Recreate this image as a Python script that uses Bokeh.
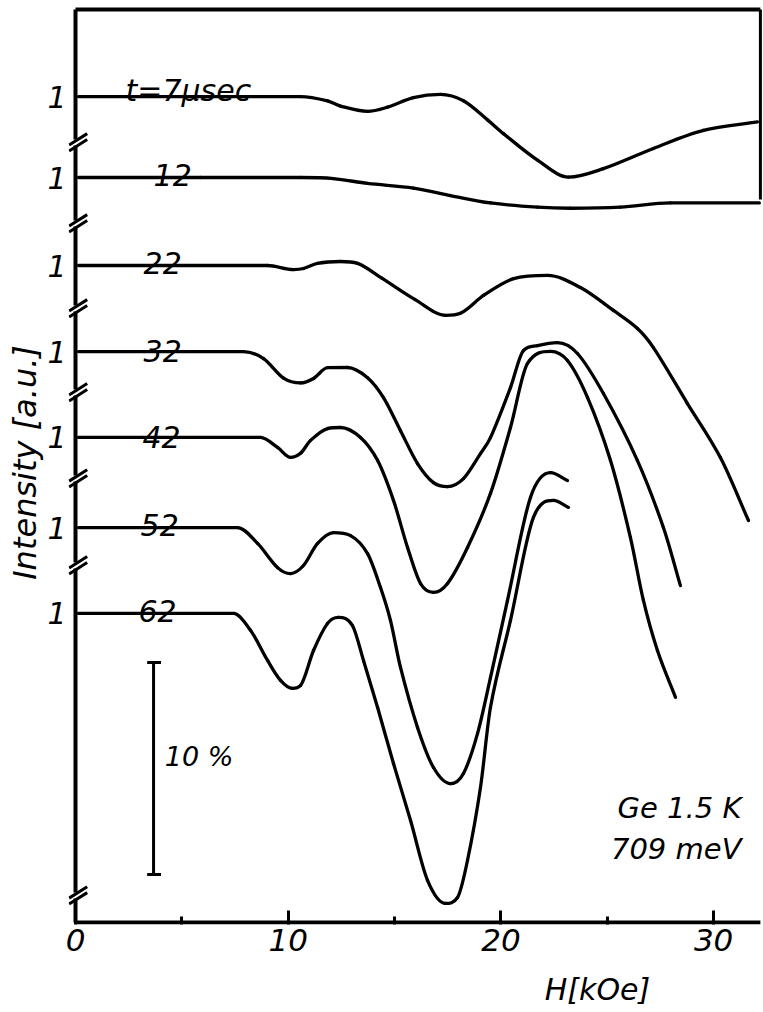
from bokeh.plotting import figure
from bokeh.models import FixedTicker, LinearAxis
from bokeh.embed import file_html
from bokeh.resources import INLINE
from bokeh.core.properties import value

# ---------------- data (H in kOe, relative intensity change in %) ----------------
curve_labels = ["t=7µsec", "12", "22", "32", "42", "52", "62"]
# vertical position (in % units above the H axis) of the "1" level of each trace
baselines = [38.96, 35.14, 30.99, 26.93, 22.88, 18.63, 14.58]

H_7 = [0.14, 5.88, 10.58, 11.85, 12.46, 13.73, 14.67, 15.89, 17.16, 18.24, 19.37, 20.12, 21.72, 23.18, 24.82, 27.17, 29.52, 32.06]
I_7 = [0, 0, 0, -0.2, -0.45, -0.7, -0.5, -0.05, 0.1, -0.2, -1.1, -1.75, -3.0, -3.8, -3.4, -2.45, -1.6, -1.2]

H_12 = [0.14, 5.88, 10.58, 12.13, 13.73, 15.89, 17.63, 19.51, 21.72, 23.27, 25.62, 27.97, 32.15]
I_12 = [0, 0, 0, -0.05, -0.28, -0.5, -0.85, -1.2, -1.4, -1.45, -1.4, -1.2, -1.2]

H_22 = [0.14, 9.03, 10.25, 10.72, 11.38, 12.46, 13.26, 14.40, 15.95, 17.40, 18.10, 19.20, 20.60, 22.19, 23.74, 25.29, 26.42, 27.17, 28.77, 30.32, 31.64]
I_22 = [0, 0, -0.19, -0.14, 0.1, 0.19, 0.1, -0.6, -1.6, -2.35, -2.25, -1.4, -0.62, -0.47, -1.04, -2.12, -2.97, -3.87, -6.51, -9.06, -12.03]

H_32 = [0.14, 7.9, 8.84, 9.78, 10.58, 11.19, 11.85, 12.79, 13.73, 14.48, 15.28, 16.08, 16.83, 17.49, 18.24, 19.04, 19.51, 20.45, 21.06, 21.72, 22.66, 23.60, 24.82, 26.42, 27.64, 28.44]
I_32 = [0, 0, -0.33, -1.25, -1.48, -1.27, -0.76, -0.75, -1.23, -2.17, -3.73, -5.28, -6.18, -6.37, -5.99, -4.81, -4.06, -1.70, 0.05, 0.28, 0.42, -0.09, -1.98, -5.14, -8.30, -11.04]

H_42 = [0.14, 8.70, 9.50, 10.11, 10.58, 11.05, 11.85, 12.46, 13.40, 14.20, 14.95, 15.61, 16.22, 16.83, 17.49, 18.43, 19.51, 20.45, 21.25, 22.33, 23.13, 24.07, 25.15, 26.09, 26.70, 27.36, 28.21]
I_42 = [0, 0, -0.47, -0.94, -0.75, -0.14, 0.42, 0.47, 0, -1.08, -2.97, -5.19, -6.89, -7.31, -6.89, -5.19, -2.64, 0.47, 3.49, 4.06, 3.63, 1.89, -1.08, -4.72, -7.69, -10.05, -12.26]

H_52 = [0.14, 7.62, 8.56, 9.50, 10.11, 10.72, 11.38, 12.13, 12.93, 13.73, 14.34, 14.81, 15.28, 16.08, 16.83, 17.63, 18.24, 18.90, 19.51, 20.31, 21.39, 22.33, 23.13]
I_52 = [0, 0, -0.75, -1.89, -2.17, -1.79, -0.75, -0.24, -0.38, -1.23, -2.83, -4.39, -6.60, -9.43, -11.32, -12.08, -11.60, -9.72, -7.08, -3.44, 1.42, 2.59, 2.22]

H_62 = [0.14, 7.43, 8.23, 9.03, 9.64, 10.20, 10.58, 11.19, 11.85, 12.36, 13.02, 13.54, 14.20, 14.95, 15.75, 16.55, 17.40, 17.96, 18.43, 19.04, 19.51, 20.45, 21.53, 22.47, 23.18]
I_62 = [0, 0, -0.80, -2.22, -3.16, -3.54, -3.40, -1.75, -0.47, -0.19, -0.57, -2.22, -4.43, -7.08, -9.76, -12.59, -13.68, -13.40, -11.65, -8.21, -4.43, -0.33, 4.53, 5.33, 5.00]

curves_H = [H_7, H_12, H_22, H_32, H_42, H_52, H_62]
curves_I = [I_7, I_12, I_22, I_32, I_42, I_52, I_62]

x_ticks = [0, 10, 20, 30]
x_minor = [5, 15, 25]
scale_bar_pct = 10

# ---------------- layout / style ----------------
label_x = [2.35, 3.67, 3.20, 3.20, 3.15, 3.06, 2.96]
label_y = [39.25, 35.28, 31.13, 26.98, 22.88, 18.73, 14.67]
axis_breaks = [36.79, 32.97, 28.96, 25.0, 20.94, 16.84, 1.27]
TOP = 43.07
XMAX = 32.2
FONT = value("DejaVu Sans")
LW = 3.3
LEFT = 68          # px of left border (frame starts here)
PX_PER_KOE = 21.27
X0_PX = 75         # page x of H = 0


def smooth_segments(xs, ys):
    """Smooth monotone-limited cubic rendering of the read points as Bezier pieces."""
    n = len(xs)
    h = [xs[i + 1] - xs[i] for i in range(n - 1)]
    d = [(ys[i + 1] - ys[i]) / h[i] for i in range(n - 1)]
    m = [0.0] * n
    m[0], m[-1] = d[0], d[-1]
    for k in range(1, n - 1):
        if d[k - 1] * d[k] <= 0:
            m[k] = 0.0
        else:
            c = (ys[k + 1] - ys[k - 1]) / (xs[k + 1] - xs[k - 1])
            lim = 3 * min(abs(d[k - 1]), abs(d[k]))
            m[k] = max(-lim, min(lim, c))
    seg = dict(x0=[], y0=[], x1=[], y1=[], cx0=[], cy0=[], cx1=[], cy1=[])
    for i in range(n - 1):
        seg["x0"].append(xs[i]); seg["y0"].append(ys[i])
        seg["x1"].append(xs[i + 1]); seg["y1"].append(ys[i + 1])
        seg["cx0"].append(xs[i] + h[i] / 3); seg["cy0"].append(ys[i] + m[i] * h[i] / 3)
        seg["cx1"].append(xs[i + 1] - h[i] / 3); seg["cy1"].append(ys[i + 1] - m[i + 1] * h[i] / 3)
    return seg


W = 763
x_start = -(X0_PX - LEFT) / PX_PER_KOE
x_end = x_start + (W - LEFT) / PX_PER_KOE

p = figure(width=W, height=1012, x_range=(x_start, x_end), y_range=(-0.094, 43.49),
           min_border_left=LEFT, min_border_right=0, min_border_top=0, min_border_bottom=88,
           output_backend="svg", toolbar_location=None, title=None)
p.grid.visible = False
p.outline_line_color = None
p.background_fill_color = "white"
p.border_fill_color = "white"

# x axis (ticks + labels from Bokeh)
xa = p.xaxis[0]
xa.ticker = FixedTicker(ticks=x_ticks, minor_ticks=x_minor)
xa.axis_line_color = None
xa.major_tick_in = 14
xa.major_tick_out = 0
xa.minor_tick_in = 8
xa.minor_tick_out = 0
xa.major_tick_line_width = 3
xa.minor_tick_line_width = 3
xa.major_tick_line_color = "black"
xa.minor_tick_line_color = "black"
xa.major_label_standoff = 4
xa.major_label_text_font = "DejaVu Sans"
xa.major_label_text_font_style = "italic"
xa.major_label_text_font_size = "31px"
xa.major_label_text_color = "black"

# second "axis" below carrying the H[kOe] caption under the right half
hx = 24.54
cap = LinearAxis(ticker=FixedTicker(ticks=[hx], minor_ticks=[]),
                 major_label_overrides={hx: "H[kOe]"},
                 axis_line_color=None, major_tick_line_color=None, minor_tick_line_color=None,
                 major_label_standoff=12, major_label_text_font="DejaVu Sans",
                 major_label_text_font_style="italic", major_label_text_font_size="30px",
                 major_label_text_color="black")
p.add_layout(cap, "below")

# y axis: "1" at each trace's reference level
ya = p.yaxis[0]
ya.ticker = FixedTicker(ticks=baselines, minor_ticks=[])
ya.major_label_overrides = {b: "1" for b in baselines}
ya.axis_line_color = None
ya.major_tick_line_color = None
ya.minor_tick_line_color = None
ya.major_label_standoff = -4
ya.major_label_text_font = "DejaVu Sans"
ya.major_label_text_font_style = "italic"
ya.major_label_text_font_size = "30px"
ya.major_label_text_color = "black"
ya.axis_label = "Intensity [a.u.]"
ya.axis_label_standoff = 0
ya.axis_label_text_font = "DejaVu Sans"
ya.axis_label_text_font_style = "italic"
ya.axis_label_text_font_size = "32px"
ya.axis_label_text_color = "black"

# axis lines drawn in data space (with breaks on the intensity axis)
p.segment(x0=[0], y0=[0], x1=[XMAX], y1=[0], line_width=4, line_color="black")
gap = 0.14
y_starts = [0] + [b + gap for b in sorted(axis_breaks)]
y_ends = [b - gap for b in sorted(axis_breaks)] + [TOP]
p.segment(x0=[0] * len(y_starts), y0=y_starts, x1=[0] * len(y_ends), y1=y_ends,
          line_width=4, line_color="black")
for sgn in (-1, 1):
    p.segment(x0=[-0.3] * len(axis_breaks), y0=[b + sgn * gap - 0.26 for b in axis_breaks],
              x1=[0.55] * len(axis_breaks), y1=[b + sgn * gap + 0.28 for b in axis_breaks],
              line_width=3, line_color="black")
# frame top and right edge
p.segment(x0=[0], y0=[TOP], x1=[XMAX], y1=[TOP], line_width=4, line_color="black")
p.segment(x0=[XMAX], y0=[TOP], x1=[XMAX], y1=[34.1], line_width=3, line_color="black")

# curves
for H, I, b in zip(curves_H, curves_I, baselines):
    seg = smooth_segments(H, [b + v for v in I])
    p.bezier(source=seg, x0="x0", y0="y0", x1="x1", y1="y1", cx0="cx0", cy0="cy0",
             cx1="cx1", cy1="cy1", line_width=LW, line_color="black", line_cap="round")

p.text(x=label_x, y=label_y, text=curve_labels, text_font=FONT, text_font_style="italic",
       text_font_size="30px", text_baseline="alphabetic", text_align="left", text_color="black")

# 10 % scale bar
bx, by0 = 3.67, 2.26
p.segment(x0=[bx], y0=[by0], x1=[bx], y1=[by0 + scale_bar_pct], line_width=3, line_color="black")
p.segment(x0=[bx - 0.3, bx - 0.3], y0=[by0, by0 + scale_bar_pct], x1=[bx + 0.35, bx + 0.35],
          y1=[by0, by0 + scale_bar_pct], line_width=3, line_color="black")
p.text(x=[4.2], y=[7.83], text=[f"{scale_bar_pct} %"], text_font=FONT, text_font_style="italic",
       text_font_size="27px", text_baseline="middle", text_align="left", text_color="black")

p.text(x=[31.31, 31.31], y=[5.42, 3.49], text=["Ge 1.5 K", "709 meV"], text_font=FONT,
       text_font_style="italic", text_font_size="29px", text_baseline="alphabetic",
       text_align="right", text_color="black")

open("out.html", "w").write(file_html(p, INLINE))
